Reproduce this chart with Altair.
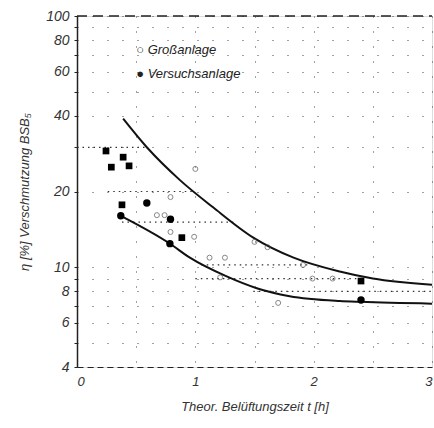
import altair as alt
import pandas as pd

# Upper and lower envelope curves
upper_x = [0.39, 0.59, 0.87, 1.15, 1.49, 1.83, 2.22, 2.5, 3.0]
upper_y = [39.0, 30.0, 22.2, 17.3, 13.1, 10.9, 9.6, 9.0, 8.5]
lower_x = [0.37, 0.785, 0.954, 1.26, 1.519, 1.797, 2.22, 2.4, 3.0]
lower_y = [16.0, 12.4, 10.9, 9.2, 8.24, 7.66, 7.33, 7.27, 7.15]

# Versuchsanlage (filled marks)
vs_sq_x = [0.245, 0.39, 0.29, 0.44, 0.38, 0.886, 2.4]
vs_sq_y = [29.0, 27.4, 25.0, 25.3, 17.7, 13.1, 8.8]
vs_ci_x = [0.59, 0.37, 0.79, 0.785, 2.4]
vs_ci_y = [18.0, 16.0, 15.5, 12.4, 7.4]

# Grossanlage (open marks)
ga_x = [1.0, 0.99, 0.675, 0.74, 0.79, 0.79, 1.12, 1.25, 1.5, 1.61, 1.91, 1.99, 2.16, 1.70, 1.21]
ga_y = [24.6, 13.2, 16.1, 16.1, 19.0, 13.8, 10.9, 10.9, 12.6, 12.0, 10.2, 9.0, 9.0, 7.2, 9.1]

# Horizontal dotted guide lines
guide_y = [30.0, 20.0, 15.1, 10.2, 9.0, 8.0]
guide_x1 = [0.0, 0.26, 0.38, 1.05, 1.0, 1.49]
guide_x2 = [0.59, 1.0, 1.32, 1.95, 2.4, 3.0]

y_ticks = [4, 5, 6, 7, 8, 9, 10, 20, 30, 40, 50, 60, 70, 80, 90, 100]
y_labels = [4, 6, 8, 10, 20, 40, 60, 80, 100]
x_ticks = [0, 0.5, 1, 1.5, 2, 2.5, 3]
x_labels = [0, 1, 2, 3]

legend_text = ["\u25CB Großanlage", "\u25CF Versuchsanlage"]
legend_x = [0.5, 0.5]
legend_y = [73.0, 59.0]

FONT = "Liberation Sans"

xs = alt.Scale(domain=[0, 3], nice=False)
ys = alt.Scale(type="log", domain=[4, 100], nice=False)

lab_expr_y = "indexof([" + ",".join(str(v) for v in y_labels) + "], datum.value) >= 0 ? format(datum.value, 'd') : ''"
lab_expr_x = "indexof([" + ",".join(str(v) for v in x_labels) + "], datum.value) >= 0 ? format(datum.value, 'd') : ''"

xaxis = alt.Axis(values=x_ticks, labelExpr=lab_expr_x, title="Theor. Belüftungszeit t [h]",
                 grid=True, gridDash=[1, 14], gridColor="#444", gridWidth=1,
                 domainDash=[6, 4], domainColor="#222", tickSize=0,
                 labelFont=FONT, labelFontStyle="italic", labelFontSize=13, labelColor="#333",
                 labelPadding=8, titleFont=FONT, titleFontStyle="italic", titleFontSize=13,
                 titleFontWeight="normal", titleColor="#333", titlePadding=12)
yaxis = alt.Axis(values=y_ticks, labelExpr=lab_expr_y,
                 title="η [%] Verschmutzung BSB₅",
                 grid=True, gridDash=[1, 14], gridColor="#444", gridWidth=1,
                 domainColor="#222", domainWidth=1.5, tickSize=3, tickColor="#222",
                 labelFont=FONT, labelFontStyle="italic", labelFontSize=14, labelColor="#333",
                 labelPadding=5, titleFont=FONT, titleFontStyle="italic", titleFontSize=13,
                 titleFontWeight="normal", titleColor="#333", titlePadding=14)

curves = pd.DataFrame({"x": upper_x + lower_x, "y": upper_y + lower_y,
                       "c": ["upper"] * len(upper_x) + ["lower"] * len(lower_x)})
curve_layer = alt.Chart(curves).mark_line(color="#111", strokeWidth=2, interpolate="monotone").encode(
    x=alt.X("x:Q", scale=xs, axis=xaxis), y=alt.Y("y:Q", scale=ys, axis=yaxis), detail="c:N")

guides = pd.DataFrame({"x": guide_x1, "x2": guide_x2, "y": guide_y})
guide_layer = alt.Chart(guides).mark_rule(color="#333", strokeDash=[1.5, 4], strokeWidth=1.2).encode(
    x=alt.X("x:Q", scale=xs), x2="x2:Q", y=alt.Y("y:Q", scale=ys))

top_border = alt.Chart(pd.DataFrame({"a": [0]})).mark_rule(
    color="#222", strokeDash=[10, 6], strokeWidth=1.3).encode(
    x=alt.value(0), x2=alt.value(355), y=alt.value(0))

sq = alt.Chart(pd.DataFrame({"x": vs_sq_x, "y": vs_sq_y})).mark_point(
    shape="square", filled=True, color="#000", size=45, opacity=1).encode(
    x=alt.X("x:Q", scale=xs), y=alt.Y("y:Q", scale=ys))
ci = alt.Chart(pd.DataFrame({"x": vs_ci_x, "y": vs_ci_y})).mark_point(
    shape="circle", filled=True, color="#000", size=55, opacity=1).encode(
    x=alt.X("x:Q", scale=xs), y=alt.Y("y:Q", scale=ys))
ga = alt.Chart(pd.DataFrame({"x": ga_x, "y": ga_y})).mark_point(
    shape="circle", filled=False, color="#555", size=25, strokeWidth=1).encode(
    x=alt.X("x:Q", scale=xs), y=alt.Y("y:Q", scale=ys))

leg = alt.Chart(pd.DataFrame({"x": legend_x, "y": legend_y, "t": legend_text})).mark_text(
    align="left", baseline="middle", font=FONT, fontStyle="italic", fontSize=13, color="#222").encode(
    x=alt.X("x:Q", scale=xs), y=alt.Y("y:Q", scale=ys), text="t:N")

chart = alt.layer(guide_layer, curve_layer, top_border, ga, sq, ci, leg).properties(
    width=355, height=351,
    autosize=alt.AutoSizeParams(type="none"),
    padding={"left": 77, "top": 16, "right": 2, "bottom": 61},
).configure_view(stroke=None).configure(background="white")

chart.save("out.html", embed_options={"renderer": "svg", "actions": False})
